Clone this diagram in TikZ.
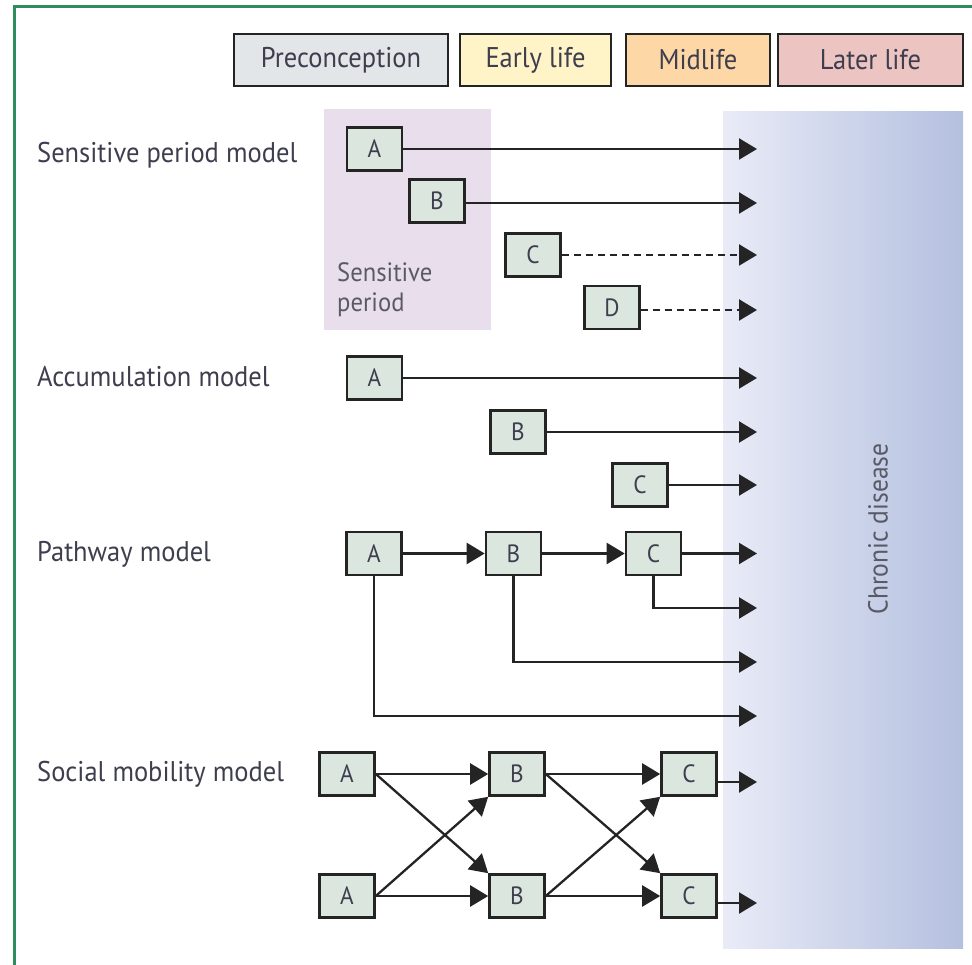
\documentclass[tikz,border=0pt]{standalone}
\usepackage{fontspec}
\setmainfont{PT Sans}[FakeStretch=0.93]
\usetikzlibrary{arrows.meta,shadings}

\definecolor{framegreen}{RGB}{48,140,92}
\definecolor{edge}{RGB}{36,36,36}
\definecolor{txt}{RGB}{62,62,78}
\definecolor{softtxt}{RGB}{90,90,102}
\definecolor{preconc}{RGB}{227,230,233}
\definecolor{early}{RGB}{255,243,200}
\definecolor{mid}{RGB}{253,215,165}
\definecolor{later}{RGB}{236,196,194}
\definecolor{sensfill}{RGB}{233,222,235}
\definecolor{boxfill}{RGB}{218,230,222}
\definecolor{panelL}{RGB}{233,235,247}
\definecolor{panelR}{RGB}{180,192,223}

\begin{document}
\begin{tikzpicture}[x=1pt,y=-1pt,
  modellabel/.style={font=\fontsize{28.5}{32}\selectfont, text=txt, anchor=base west, inner sep=0pt},
  stagebox/.style={draw=edge, line width=2.8pt, font=\fontsize{28.5}{32}\selectfont,
                   text=txt, inner sep=0pt, minimum height=52pt},
  factor/.style={draw=edge, line width=2.6pt, fill=boxfill, minimum width=55pt,
                 minimum height=43pt, inner sep=0pt, font=\fontsize{25}{28}\selectfont, text=txt},
  link/.style={line width=2.3pt, draw=edge, -{Triangle[length=18pt,width=21pt]}},
  dashlink/.style={link, dash pattern=on 7pt off 5pt}
]
\useasboundingbox (0,0) rectangle (972,965);

% outer frame
\draw[framegreen, line width=3pt] (14,965) -- (14,7) -- (972,7);

% life-course stages
\node[stagebox, fill=preconc, minimum width=214pt] (pre) at (341,60) {Preconception};
\node[stagebox, fill=early,   minimum width=151pt] (ear) at (535.5,60) {Early life};
\node[stagebox, fill=mid,     minimum width=144pt] (mdl) at (698,60) {Midlife};
\node[stagebox, fill=later,   minimum width=185pt] (lat) at (870.5,60) {Later life};

% outcome panel
\shade[left color=panelL, right color=panelR] (723,112) rectangle (963,948);
\node[rotate=90, font=\fontsize{27.5}{30}\selectfont, text=softtxt] (cd) at (878,529) {Chronic disease};

% sensitive period band
\fill[sensfill] (324,109) rectangle (491,330);
\node[anchor=base west, inner sep=0pt, align=left, font=\fontsize{26.5}{30}\selectfont, text=softtxt]
  (sp) at (337,312) {Sensitive\\period};

% model names
\node[modellabel] (m1) at (37,163) {Sensitive period model};
\node[modellabel] (m2) at (37,387) {Accumulation model};
\node[modellabel] (m3) at (37,561) {Pathway model};
\node[modellabel] (m4) at (37,781) {Social mobility model};

% sensitive period model
\node[factor] (sA) at (374.5,149) {A};
\node[factor] (sB) at (437,201) {B};
\node[factor] (sC) at (533,255) {C};
\node[factor] (sD) at (612,307.5) {D};
\coordinate (oA) at (757,149);
\coordinate (oB) at (757,203);
\coordinate (oC) at (757,255);
\coordinate (oD) at (757,310);
\draw[link] (sA.east |- oA) -- (oA);
\draw[link] (sB.east |- oB) -- (oB);
\draw[dashlink] (sC.east |- oC) -- (oC);
\draw[dashlink] (sD.east |- oD) -- (oD);

% accumulation model
\node[factor] (aA) at (374.5,378) {A};
\node[factor] (aB) at (518,432) {B};
\node[factor] (aC) at (640,485) {C};
\coordinate (qA) at (757,378);
\coordinate (qB) at (757,432);
\coordinate (qC) at (757,485);
\draw[link] (aA) -- (qA);
\draw[link] (aB) -- (qB);
\draw[link] (aC) -- (qC);

% pathway model
\node[factor] (pA) at (374,553.5) {A};
\node[factor] (pB) at (513.5,553.5) {B};
\node[factor] (pC) at (653.5,553.5) {C};
\coordinate (rC) at (757,553.5);
\coordinate (rC2) at (757,608);
\coordinate (rB) at (757,662);
\coordinate (rA) at (757,716);
\draw[link] (pA) -- (pB);
\draw[link] (pB) -- (pC);
\draw[link] (pC) -- (rC);
\draw[link] (pC.south) |- (rC2);
\draw[link] (pB.south) |- (rB);
\draw[link] (pA.south) |- (rA);

% social mobility model
\node[factor] (xA1) at (347,774) {A};
\node[factor] (xA2) at (347,896) {A};
\node[factor] (xB1) at (517,774) {B};
\node[factor] (xB2) at (517,896) {B};
\node[factor] (xC1) at (689,774) {C};
\node[factor] (xC2) at (689,896) {C};
\coordinate (tC1) at (757,782);
\coordinate (tC2) at (757,903);
\draw[link] (xA1) -- (xB1);
\draw[link] (xA2) -- (xB2);
\draw[link] (xB1) -- (xC1);
\draw[link] (xB2) -- (xC2);
\draw[link] (xA1.east) -- (xB2.north west);
\draw[link] (xA2.east) -- (xB1.south west);
\draw[link] (xB1.east) -- (xC2.north west);
\draw[link] (xB2.east) -- (xC1.south west);
\draw[link] (xC1.east |- tC1) -- (tC1);
\draw[link] (xC2.east |- tC2) -- (tC2);
\end{tikzpicture}
\end{document}
